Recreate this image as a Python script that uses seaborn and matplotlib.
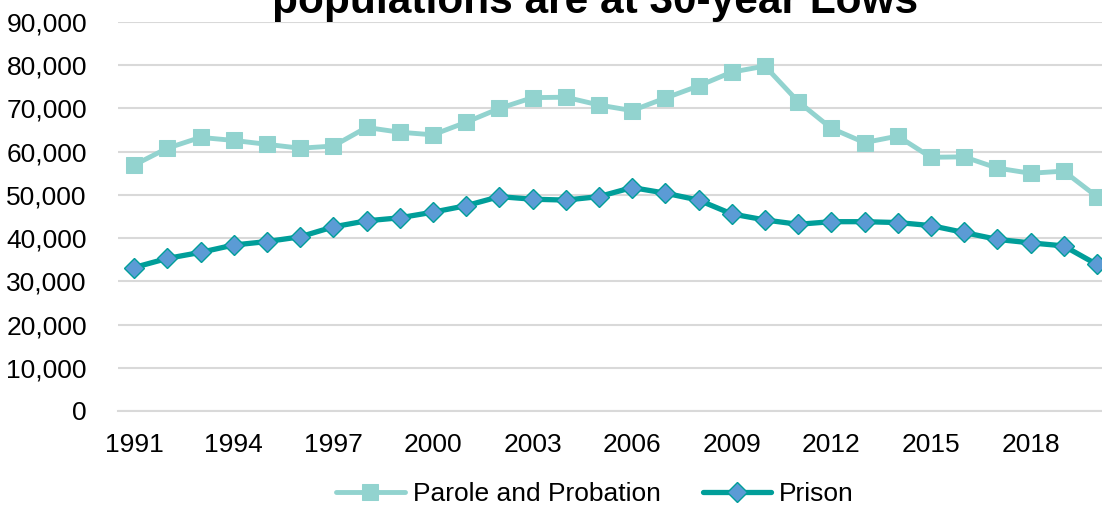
"""Parole/probation vs prison populations, 1991-2020."""

import matplotlib.pyplot as plt
import numpy as np
import pandas as pd
import seaborn as sns
from matplotlib.ticker import FuncFormatter, MultipleLocator

YEARS = list(range(1991, 2021))
PAROLE = [56900, 60800, 63300, 62600, 61700, 60800, 61300, 65600, 64500, 63900,
          66800, 70000, 72500, 72600, 70800, 69500, 72400, 75200, 78400, 79800,
          71600, 65400, 62100, 63600, 58700, 58800, 56200, 55000, 55500, 49600]
PRISON = [33200, 35300, 36700, 38400, 39200, 40300, 42600, 44000, 44700, 46000,
          47500, 49600, 49000, 48800, 49600, 51700, 50400, 48800, 45600, 44200,
          43200, 43800, 43800, 43600, 42900, 41300, 39700, 38900, 38200, 33900]
LABEL_YEARS = list(range(1991, 2021, 3))
TITLE = "populations are at 30-year Lows"

PAROLE_COLOR = "#92D3CF"
PRISON_COLOR = "#009E99"
PRISON_MARKER = "#5B9BD5"
GRID_COLOR = "#D9D9D9"

sns.set_theme(style="white")
plt.rcParams["font.family"] = ["Liberation Sans", "DejaVu Sans"]
plt.rcParams.update({"text.color": "black", "xtick.color": "black", "ytick.color": "black"})

df = pd.DataFrame({"Year": YEARS, "Parole and Probation": PAROLE, "Prison": PRISON})

fig = plt.figure(figsize=(11.02, 5.08), dpi=100)
ax = fig.add_axes([117.5 / 1102, 97 / 508, 996 / 1102, 389 / 508])

sns.lineplot(data=df, x="Year", y="Parole and Probation", ax=ax, color=PAROLE_COLOR,
             linewidth=3.5, marker="s", markersize=12, markeredgecolor=PAROLE_COLOR,
             label="Parole and Probation", zorder=3)
sns.lineplot(data=df, x="Year", y="Prison", ax=ax, color=PRISON_COLOR,
             linewidth=3.8, marker="D", markersize=10, markerfacecolor=PRISON_MARKER,
             markeredgecolor=PRISON_COLOR, markeredgewidth=1.0,
             label="Prison", zorder=4)

ax.set_xlim(1990.5, 2020.5)
ax.set_ylim(0, 90000)
ax.yaxis.set_major_locator(MultipleLocator(10000))
ax.yaxis.set_major_formatter(FuncFormatter(lambda v, _: f"{int(v):,}"))
ax.set_xticks(LABEL_YEARS)
ax.set_xticklabels([str(y) for y in LABEL_YEARS])
ax.set_xticks(np.arange(1990.5, 2021, 1.0), minor=True)
ax.tick_params(axis="x", which="major", length=0, labelsize=19, pad=16)
ax.tick_params(axis="x", which="minor", length=6, width=1.2, color=GRID_COLOR, direction="out")
ax.tick_params(axis="y", which="major", length=0, labelsize=19, pad=22)
ax.grid(axis="y", color=GRID_COLOR, linewidth=1.5)
ax.grid(axis="x", visible=False)
ax.set_axisbelow(True)
for side in ["left", "right", "top"]:
    ax.spines[side].set_visible(False)
ax.spines["bottom"].set_color(GRID_COLOR)
ax.spines["bottom"].set_linewidth(1.5)
ax.set_xlabel("")
ax.set_ylabel("")

handles, labels = ax.get_legend_handles_labels()
ax.get_legend().remove()
fig.legend(handles, labels, loc="center", bbox_to_anchor=(0.54, 0.028), ncol=2,
           frameon=False, fontsize=19, handlelength=2.6, handletextpad=0.3,
           columnspacing=1.6)

# the reference is cropped through the second line of a two-line title
fig.text(0.54, 1 - 13 / 508, TITLE, ha="center", va="baseline",
         fontsize=30.5, fontweight="bold", color="black")

fig.savefig("out.png", dpi=100, facecolor="white")
